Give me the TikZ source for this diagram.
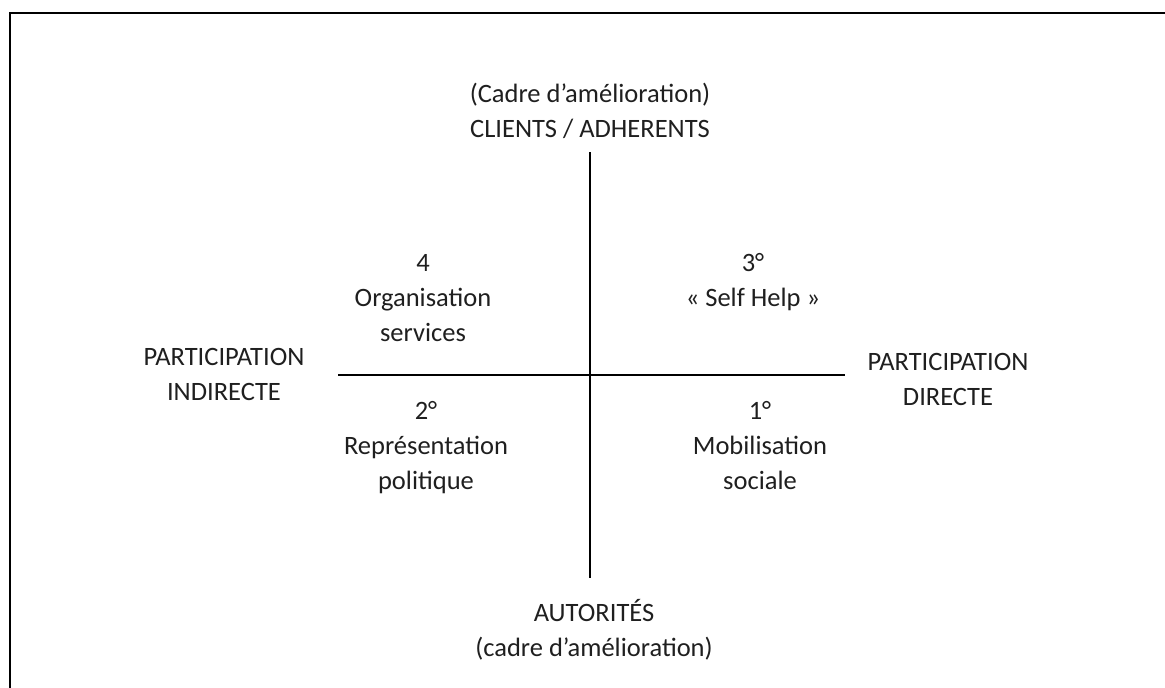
\documentclass[tikz,border=0pt]{standalone}
\usepackage{fontspec}
\setmainfont{Carlito}
\begin{document}
\begin{tikzpicture}[x=1pt,y=-1pt,
  lbl/.style={anchor=base,align=center,inner sep=0pt,text=black!88,
    font=\fontsize{26.5}{35}\selectfont},
  axis/.style={line width=1.3pt,black},
  frame/.style={line width=2pt,black}]
\useasboundingbox (0,0) rectangle (1165,688);
% frame (top and left edges only)
\coordinate (fbl) at (10,688);
\coordinate (ftl) at (10,13);
\coordinate (ftr) at (1165,13);
\draw[frame] (fbl) -- (ftl) -- (ftr);
% axes
\coordinate (vt) at (590,152);
\coordinate (vb) at (590,578);
\coordinate (hl) at (338,375);
\coordinate (hr) at (845,375);
\draw[axis] (vt) -- (vb);
\draw[axis] (hl) -- (hr);
% axis labels (anchor = baseline of last line)
\node[lbl] (top) at (590,137) {(Cadre d’amélioration)\\CLIENTS / ADHERENTS};
\node[lbl] (bottom) at (594,656) {AUTORITÉS\\(cadre d’amélioration)};
\node[lbl] (left) at (224,400) {PARTICIPATION\\INDIRECTE};
\node[lbl] (right) at (948,405) {PARTICIPATION\\DIRECTE};
% quadrants
\node[lbl] (q4) at (423,341) {4\\Organisation\\services};
\node[lbl] (q3) at (753,306) {3°\\« Self Help »};
\node[lbl] (q2) at (426,489) {2°\\Représentation\\politique};
\node[lbl] (q1) at (760,489) {1°\\Mobilisation\\sociale};
\end{tikzpicture}
\end{document}
